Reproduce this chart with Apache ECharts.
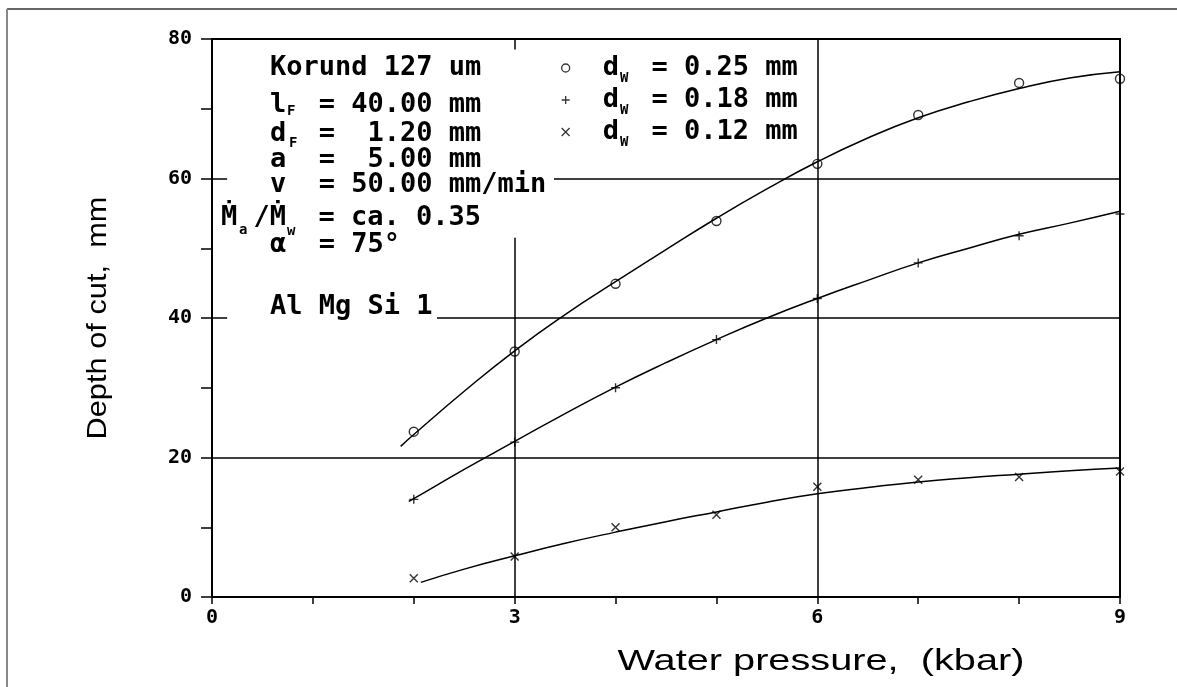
<!DOCTYPE html>
<html><head><meta charset="utf-8">
<script src="https://cdn.jsdelivr.net/npm/echarts@6/dist/echarts.min.js"></script>
<style>html,body{margin:0;padding:0;background:#fff}#c{width:1177px;height:687px}</style>
</head><body><div id="c"></div>
<script>
// ---- data ----
const pressure = [2, 3, 4, 5, 6, 7, 8, 9];
const depthD025 = [23.7, 35.2, 44.9, 53.9, 62.1, 69.1, 73.7, 74.3];
const depthD018 = [14.0, 22.2, 30.0, 36.9, 42.8, 47.9, 51.8, 54.9];
const depthD012 = [2.7, 5.8, 10.0, 11.8, 15.8, 16.8, 17.2, 18.0];

const fitX025 = [1.87, 2, 2.5, 3, 3.5, 4, 4.5, 5, 5.5, 6, 6.5, 7, 7.5, 8, 8.5, 9];
const fitY025 = [21.6, 23.3, 29.5, 35.3, 40.5, 45.2, 49.8, 54.3, 58.5, 62.4, 65.8, 68.7, 71.0, 72.9, 74.4, 75.3];
const fitX018 = [1.95, 2, 2.5, 3, 3.5, 4, 4.5, 5, 5.5, 6, 6.5, 7, 7.5, 8, 8.5, 9];
const fitY018 = [13.7, 14.1, 18.3, 22.3, 26.3, 30.1, 33.6, 36.9, 40.0, 42.8, 45.4, 47.9, 50.0, 52.0, 53.6, 55.3];
const fitX012 = [2.07, 2.5, 3, 3.5, 4, 4.5, 5, 5.5, 6, 6.5, 7, 7.5, 8, 8.5, 9];
const fitY012 = [2.1, 4.0, 5.9, 7.7, 9.3, 10.8, 12.2, 13.6, 14.8, 15.7, 16.5, 17.1, 17.6, 18.1, 18.5];

const seriesNames = ['dW = 0.25 mm', 'dW = 0.18 mm', 'dW = 0.12 mm'];
const xTickLabels = ['0', '3', '6', '9'];
const yTickLabels = ['0', '20', '40', '60', '80'];

// grid line segments in data units [from, to]
const gridSegments = [
  [[0, 20], [9, 20]],
  [[2.23, 40], [9, 40]],
  [[0, 40], [0.15, 40]],
  [[3.39, 60], [9, 60]],
  [[0, 60], [0.15, 60]],
  [[3, 0], [3, 51.5]],
  [[6, 0], [6, 80]],
  [[3, 80], [3, 78.5]]
];

const zip = (xs, ys) => xs.map((x, i) => [x, ys[i]]);

const MONO = '"DejaVu Sans Mono", "Liberation Mono", monospace';
const monoFont = 'bold 27px ' + MONO;
const subFont = 'bold 14px ' + MONO;

function txt(x, y, text, font) {
  return { type: 'text', x: x, y: y, silent: true,
    style: { text: text, font: font || monoFont, fill: '#000', align: 'left', verticalAlign: 'middle' } };
}

const chart = echarts.init(document.getElementById('c'), null, { renderer: 'canvas' });

const markerStyle = { color: 'rgba(0,0,0,0)', borderColor: '#000', borderWidth: 1.4 };
const fitLine = { color: '#000', width: 1.5 };

chart.setOption({
  animation: false,
  backgroundColor: '#fff',
  grid: { left: 212, right: 57, top: 39, bottom: 90, show: true, borderColor: '#000', borderWidth: 2, backgroundColor: 'rgba(0,0,0,0)' },
  xAxis: {
    type: 'value', min: 0, max: 9, interval: 1,
    axisLine: { show: true, onZero: false, lineStyle: { color: '#000', width: 2 } },
    axisTick: { show: true, inside: false, length: 7, lineStyle: { color: '#000', width: 1.5 } },
    axisLabel: { margin: 11, color: '#000', fontFamily: MONO, fontWeight: 'bold', fontSize: 20,
      formatter: v => xTickLabels.includes(String(v)) ? String(v) : '' },
    splitLine: { show: false }
  },
  yAxis: {
    type: 'value', min: 0, max: 80, interval: 10,
    axisLine: { show: true, onZero: false, lineStyle: { color: '#000', width: 2 } },
    axisTick: { show: true, inside: false, length: 11, lineStyle: { color: '#000', width: 1.5 } },
    axisLabel: { margin: 20, color: '#000', fontFamily: MONO, fontWeight: 'bold', fontSize: 20,
      formatter: v => yTickLabels.includes(String(v)) ? String(v) : '' },
    splitLine: { show: false }
  },
  legend: {
    show: true, orient: 'vertical', left: 561, top: 52, padding: 0,
    itemWidth: 64, itemHeight: 8, itemGap: 0, selectedMode: false,
    data: seriesNames,
    itemStyle: { borderWidth: 1.3, borderColor: '#000', color: 'rgba(0,0,0,0)' },
    formatter: n => n.replace('dW', 'd '),
    textStyle: { color: '#000', fontFamily: MONO, fontWeight: 'bold', fontSize: 27, lineHeight: 32 }
  },
  series: [
    {
      name: 'fit 0.25', type: 'line', smooth: true, showSymbol: false, silent: true,
      lineStyle: fitLine, data: zip(fitX025, fitY025), z: 3,
      markLine: {
        silent: true, symbol: 'none', animation: false, label: { show: false },
        lineStyle: { color: '#000', width: 1.5, type: 'solid' },
        data: gridSegments.map(s => [{ coord: s[0] }, { coord: s[1] }])
      }
    },
    { name: 'fit 0.18', type: 'line', smooth: true, showSymbol: false, silent: true,
      lineStyle: fitLine, data: zip(fitX018, fitY018), z: 3 },
    { name: 'fit 0.12', type: 'line', smooth: true, showSymbol: false, silent: true,
      lineStyle: fitLine, data: zip(fitX012, fitY012), z: 3 },
    { name: seriesNames[0], type: 'scatter', symbol: 'circle', symbolSize: 9,
      itemStyle: markerStyle, data: zip(pressure, depthD025), z: 4 },
    { name: seriesNames[1], type: 'scatter', symbol: 'path://M5,0L5,10M0,5L10,5', symbolSize: 9,
      itemStyle: markerStyle, data: zip(pressure, depthD018), z: 4 },
    { name: seriesNames[2], type: 'scatter', symbol: 'path://M0,0L10,10M10,0L0,10', symbolSize: 8,
      itemStyle: markerStyle, data: zip(pressure, depthD012), z: 4 }
  ],
  graphic: [
    { type: 'line', silent: true, shape: { x1: 7, y1: 9, x2: 1177, y2: 9 }, style: { stroke: '#666', lineWidth: 2 } },
    { type: 'line', silent: true, shape: { x1: 7, y1: 9, x2: 7, y2: 687 }, style: { stroke: '#888', lineWidth: 2 } },
    txt(270, 68, 'Korund 127 um'),
    txt(270, 105, 'l  = 40.00 mm'), txt(287, 111, 'F', subFont),
    txt(270, 134, 'd  =  1.20 mm'), txt(289, 143, 'F', subFont),
    txt(270, 160, 'a  =  5.00 mm'),
    txt(270, 185, 'v  = 50.00 mm/min'),
    txt(221, 218, 'Ṁ /Ṁ  = ca. 0.35'), txt(239, 230, 'a', subFont), txt(287, 231, 'w', subFont),
    txt(270, 245, 'α  = 75°'),
    txt(270, 307, 'Al Mg Si 1'),
    txt(620, 78, 'W', subFont), txt(620, 110, 'W', subFont), txt(620, 142, 'W', subFont),
    { type: 'text', x: 98, y: 318, rotation: Math.PI / 2, scaleX: 1.1, silent: true,
      style: { text: 'Depth of cut,  mm', font: '28px "Liberation Sans", Arial, sans-serif', fill: '#000', align: 'center', verticalAlign: 'middle' } },
    { type: 'text', x: 821, y: 662, scaleX: 1.37, silent: true,
      style: { text: 'Water pressure,  (kbar)', font: '29px "Liberation Sans", Arial, sans-serif', fill: '#000', align: 'center', verticalAlign: 'middle' } }
  ]
});
</script></body></html>
